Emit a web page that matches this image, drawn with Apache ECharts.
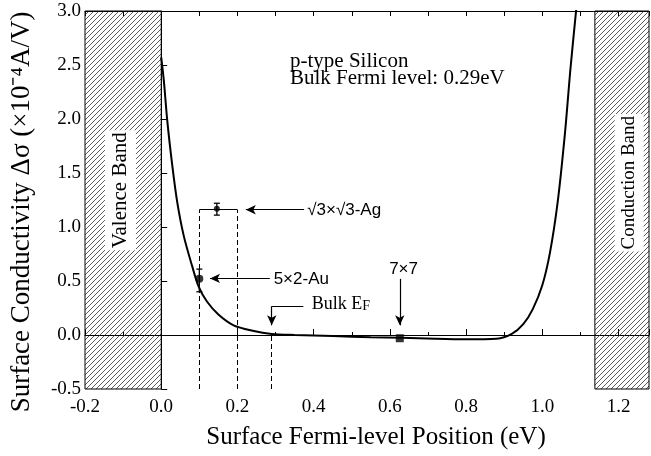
<!DOCTYPE html>
<html>
<head>
<meta charset="utf-8">
<title>Surface conductivity vs surface Fermi level</title>
<script src="https://cdn.jsdelivr.net/npm/echarts@6/dist/echarts.min.js"></script>
<style>
  html, body { margin: 0; padding: 0; background: #fff; }
  #chart { width: 651px; height: 456px; }
</style>
</head>
<body>
<div id="chart"></div>
<script>
// calculated curve (eV, 1e-4 A/V)
const curveX = [0, 0.007, 0.016, 0.029, 0.042, 0.059, 0.081, 0.098, 0.12, 0.15, 0.19, 0.24, 0.29, 0.35, 0.45, 0.55, 0.63, 0.72, 0.8, 0.88, 0.92, 0.95, 0.975, 1.0, 1.02, 1.04, 1.059, 1.074, 1.09]
const curveY = [2.57, 2.35, 1.98, 1.57, 1.23, 0.92, 0.64, 0.45, 0.31, 0.19, 0.09, 0.04, 0.01, 0.0, -0.01, -0.02, -0.025, -0.035, -0.04, -0.035, 0.01, 0.1, 0.24, 0.46, 0.76, 1.22, 1.85, 2.47, 3.05]

// measured surfaces: [x, y, errLow, errHigh]
const auPoint = [0.10, 0.52, 0.40, 0.61]
const agPoint = [0.146, 1.17, 1.11, 1.22]
const si77Point = [0.626, -0.03]

// bands and reference levels
const valenceBand = [-0.2, 0.0]
const conductionBand = [1.138, 1.28]
const bulkEF = 0.29
const agWindow = [0.1, 0.2]
const agLevel = 1.16

const xRange = [-0.2, 1.28]
const yRange = [-0.5, 3.0]

const serif = 'Liberation Serif'
const sans = 'Liberation Sans'

function hatch () {
  let c = document.createElement('canvas')
  c.width = 5
  c.height = 5
  let g = c.getContext('2d')
  g.strokeStyle = '#333'
  g.lineWidth = 0.8
  g.beginPath()
  g.moveTo(0, 5); g.lineTo(5, 0)
  g.moveTo(-2.5, 2.5); g.lineTo(2.5, -2.5)
  g.moveTo(2.5, 7.5); g.lineTo(7.5, 2.5)
  g.stroke()
  return c
}

let myChart = echarts.init(document.getElementById('chart'))
let pattern = { image: hatch(), repeat: 'repeat' }
let black = '#000'

function arrow (from, to) {
  return [
    { coord: from, symbol: 'none' },
    { coord: to, symbol: 'arrow', symbolSize: [7, 10] }
  ]
}
function dashed (from, to) {
  return [{ coord: from, symbol: 'none' }, { coord: to, symbol: 'none' }]
}
function note (coord, text, extra) {
  return { coord: coord, value: 0, label: Object.assign({ formatter: text }, extra || {}) }
}

let option = {
  animation: false,
  backgroundColor: '#fff',
  title: {
    text: 'p-type Silicon\nBulk Fermi level: 0.29eV',
    left: 285,
    top: 48,
    textStyle: { fontFamily: serif, fontSize: 21, fontWeight: 'normal', color: black, lineHeight: 17 }
  },
  grid: { left: 84, right: 2, top: 11, bottom: 67 },
  xAxis: [{
    type: 'value',
    min: xRange[0],
    max: xRange[1],
    interval: 0.2,
    name: 'Surface Fermi-level Position (eV)',
    nameLocation: 'middle',
    nameGap: 36,
    nameTextStyle: { fontFamily: serif, fontSize: 25, color: black, padding: [0, 0, 0, 18] },
    axisLine: { lineStyle: { color: black, width: 1 } },
    axisTick: { inside: true, length: 6, lineStyle: { color: black } },
    minorTick: { show: true, splitNumber: 2, length: 3, lineStyle: { color: black } },
    axisLabel: { showMaxLabel: false, margin: 9, fontFamily: serif, fontSize: 19, color: black, formatter: v => v.toFixed(1) },
    splitLine: { show: false }
  }, {
    type: 'value',
    position: 'top',
    min: xRange[0],
    max: xRange[1],
    interval: 0.2,
    axisLine: { lineStyle: { color: black, width: 1 } },
    axisTick: { inside: true, length: 5, lineStyle: { color: black } },
    minorTick: { show: true, splitNumber: 2, length: 5, lineStyle: { color: black } },
    axisLabel: { show: false },
    splitLine: { show: false }
  }],
  yAxis: {
    type: 'value',
    min: yRange[0],
    max: yRange[1],
    interval: 0.5,
    name: 'Surface Conductivity Δσ (×10⁻⁴A/V)',
    nameLocation: 'middle',
    nameGap: 50,
    nameTextStyle: { fontFamily: serif, fontSize: 27, color: black, padding: [0, 24, 0, 0] },
    axisLine: { show: true, lineStyle: { color: black, width: 1 } },
    axisTick: { show: true, inside: true, length: 6, lineStyle: { color: black } },
    axisLabel: { margin: 4, fontFamily: serif, fontSize: 19, color: black, formatter: v => v.toFixed(1) },
    splitLine: { show: false }
  },
  series: [
    {
      // curve, bands and dashed guides
      type: 'line',
      data: curveX.map((x, i) => [x, curveY[i]]),
      smooth: 0.3,
      showSymbol: false,
      lineStyle: { color: black, width: 2 },
      z: 5,
      markArea: {
        silent: true,
        itemStyle: { color: pattern, borderColor: black, borderWidth: 1 },
        data: [
          [{ coord: [valenceBand[0], yRange[0]] }, { coord: [valenceBand[1], yRange[1]] }],
          [{ coord: [conductionBand[0], yRange[0]] }, { coord: [conductionBand[1], yRange[1]] }]
        ]
      },
      markLine: {
        silent: true,
        label: { show: false },
        lineStyle: { color: black, width: 1, type: [5, 3] },
        data: [
          dashed([xRange[0], 0], [conductionBand[0], 0]),
          dashed([agWindow[0], yRange[0]], [agWindow[0], agLevel]),
          dashed([agWindow[1], yRange[0]], [agWindow[1], agLevel]),
          dashed([bulkEF, yRange[0]], [bulkEF, 0.01])
        ]
      }
    },
    {
      // arrows, labels and small solid pieces
      type: 'line',
      data: [],
      z: 6,
      markLine: {
        silent: true,
        label: { show: false },
        lineStyle: { color: black, width: 1.2, type: 'solid' },
        data: [
          dashed([agWindow[0], agLevel], [agWindow[1], agLevel]),
          arrow([0.375, 1.16], [0.222, 1.16]),
          arrow([0.285, 0.524], [0.128, 0.524]),
          dashed([0.373, 0.266], [bulkEF, 0.266]),
          arrow([bulkEF, 0.266], [bulkEF, 0.09]),
          arrow([si77Point[0], 0.52], [si77Point[0], 0.09])
        ]
      },
      markPoint: {
        silent: true,
        symbol: 'circle',
        symbolSize: 0,
        label: { color: black, fontFamily: sans, fontSize: 17, position: 'right', distance: 0 },
        data: [
          note([0.383, 1.15], '√3×√3-Ag'),
          note([0.295, 0.52], '5×2-Au'),
          note([0.395, 0.28], 'Bulk E{s|F}', {
            fontFamily: serif, fontSize: 18,
            rich: { s: { fontFamily: serif, fontSize: 14, color: black, padding: [4, 0, 0, 0] } }
          }),
          note([0.636, 0.61], '7×7', { position: 'inside' }),
          note([-0.107, 1.34], 'Valence Band', {
            position: 'inside', rotate: 90, fontFamily: serif, fontSize: 21,
            backgroundColor: '#fff', padding: [5, 2, 5, 2]
          }),
          note([1.228, 1.41], 'Conduction Band', {
            position: 'inside', rotate: 90, fontFamily: serif, fontSize: 19,
            backgroundColor: '#fff', padding: [5, 2, 5, 2]
          })
        ]
      }
    },
    {
      // error bars
      type: 'custom',
      z: 7,
      data: [auPoint, agPoint],
      renderItem: function (params, api) {
        let x = api.value(0)
        let lo = api.coord([x, api.value(2)])
        let hi = api.coord([x, api.value(3)])
        let st = { stroke: black, lineWidth: 1.3 }
        return {
          type: 'group',
          children: [
            { type: 'line', shape: { x1: lo[0], y1: lo[1], x2: hi[0], y2: hi[1] }, style: st },
            { type: 'line', shape: { x1: lo[0] - 3, y1: lo[1], x2: lo[0] + 3, y2: lo[1] }, style: st },
            { type: 'line', shape: { x1: hi[0] - 3, y1: hi[1], x2: hi[0] + 3, y2: hi[1] }, style: st }
          ]
        }
      }
    },
    {
      type: 'scatter',
      z: 8,
      data: [
        { value: [auPoint[0], auPoint[1]], symbol: 'circle', symbolSize: 8 },
        { value: [agPoint[0], agPoint[1]], symbol: 'circle', symbolSize: 6 },
        { value: si77Point, symbol: 'rect', symbolSize: 8 }
      ],
      itemStyle: { color: black }
    }
  ]
}
myChart.setOption(option)
</script>
</body>
</html>
